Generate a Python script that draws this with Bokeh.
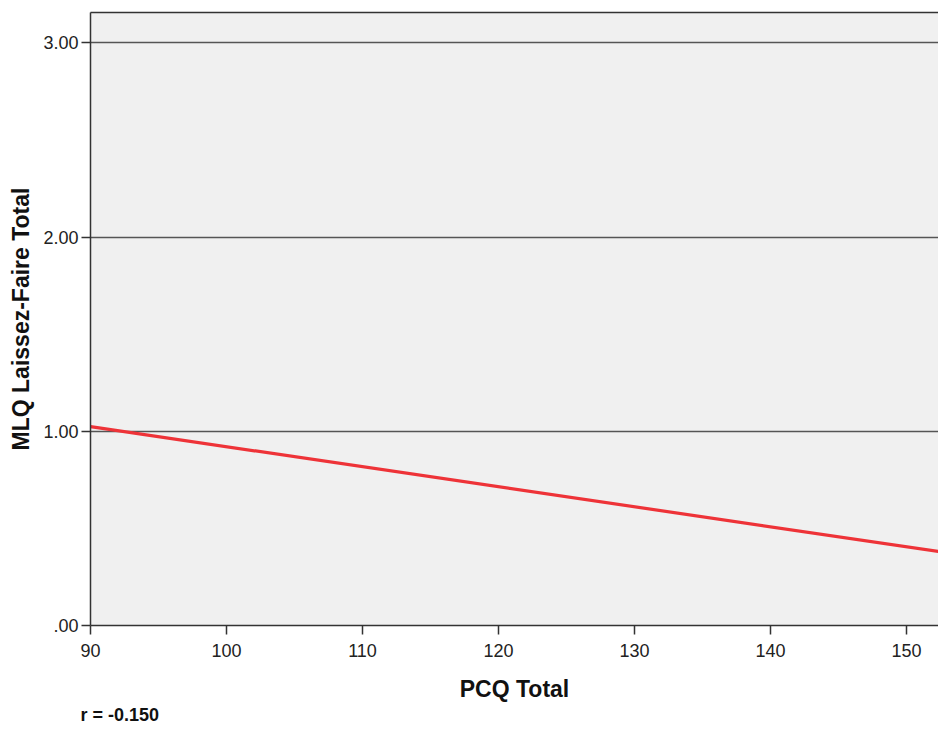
from bokeh.plotting import figure
from bokeh.models import Range1d, FixedTicker, LinearAxis, Title
from bokeh.embed import file_html
from bokeh.resources import INLINE

# Axis ticks and labels
x_ticks = [90, 100, 110, 120, 130, 140, 150]
y_ticks = [0, 1, 2, 3]
y_tick_labels = [".00", "1.00", "2.00", "3.00"]

# Fitted regression line of MLQ Laissez-Faire Total on PCQ Total
fit_x = [90.0, 152.35]
fit_y = [1.024, 0.381]
r_value = -0.150

FONT = "Liberation Sans"
INK = "#222222"

p = figure(
    width=938, height=738,
    x_range=Range1d(90, 152.35), y_range=Range1d(0, 3.157),
    output_backend="svg", toolbar_location=None,
    min_border_left=90, min_border_right=0, min_border_top=12, min_border_bottom=113,
    background_fill_color="#f0f0f0", border_fill_color="white",
    outline_line_color=None,
)

# Horizontal reference lines only
p.xgrid.visible = False
p.ygrid.ticker = FixedTicker(ticks=y_ticks)
p.ygrid.grid_line_color = "#555555"
p.ygrid.grid_line_width = 1.5

for ax in (p.xaxis[0], p.yaxis[0]):
    ax.axis_line_color = "#333333"
    ax.axis_line_width = 1.5
    ax.major_tick_line_color = "#333333"
    ax.major_tick_line_width = 1.5
    ax.major_tick_in = 0
    ax.major_tick_out = 9
    ax.minor_tick_line_color = None
    ax.major_label_text_font = FONT
    ax.major_label_text_font_size = "18px"
    ax.major_label_text_color = INK
    ax.axis_label_text_font = FONT
    ax.axis_label_text_font_size = "23px"
    ax.axis_label_text_font_style = "bold"
    ax.axis_label_text_color = "#111111"

p.xaxis.ticker = FixedTicker(ticks=x_ticks)
p.xaxis.major_label_standoff = 9
p.xaxis.axis_label = "PCQ Total"
p.xaxis.axis_label_standoff = 16

p.yaxis.ticker = FixedTicker(ticks=y_ticks)
p.yaxis.major_label_overrides = {t: s for t, s in zip(y_ticks, y_tick_labels)}
p.yaxis.major_label_standoff = 3
p.yaxis.axis_label = "MLQ Laissez-Faire Total"
p.yaxis.axis_label_standoff = 6

# Top border of the plot frame
top = LinearAxis(ticker=FixedTicker(ticks=[]), major_label_text_font_size="0px",
                 major_tick_line_color=None, minor_tick_line_color=None,
                 axis_line_color="#333333", axis_line_width=1.5)
p.add_layout(top, "above")

p.line(fit_x, fit_y, line_color="#ee3338", line_width=3.2)

# Correlation note under the x axis
note = Title(text=f"r = {r_value:.3f}", align="left", offset=-10, standoff=0,
             vertical_align="top",
             text_font=FONT, text_font_size="18px", text_font_style="bold",
             text_color="#111111")
p.add_layout(note, "below")

open("out.html", "w").write(file_html(p, INLINE))
